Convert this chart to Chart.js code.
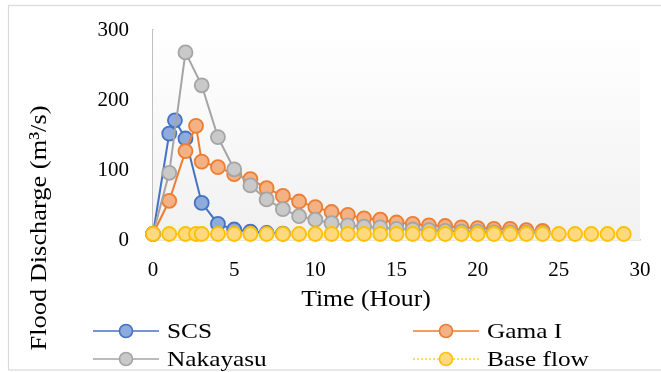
<!DOCTYPE html>
<html>
<head>
<meta charset="utf-8">
<script src="https://cdn.jsdelivr.net/npm/chart.js@4/dist/chart.umd.min.js"></script>
<style>
  html, body { margin: 0; padding: 0; background: #ffffff; }
  #wrap { width: 661px; height: 372px; position: relative; }
</style>
</head>
<body>
<div id="wrap"><canvas id="chart" width="661" height="372"></canvas></div>
<script>
// Hydrograph series (time in hours, discharge in m3/s)
const scsHours = [0, 1, 1.35, 2, 3, 4, 5, 6, 7, 8];
const scsFlow  = [8.6, 152, 171, 145, 53, 23, 15, 12, 10, 9];

const gamaHours = [0, 1, 2, 2.65, 3, 4, 5, 6, 7, 8, 9, 10, 11, 12, 13, 14, 15, 16, 17, 18, 19, 20, 21, 22, 23, 24];
const gamaFlow  = [8.6, 56, 127, 163, 112, 104, 94, 87, 74, 63, 55, 47, 40, 36, 31, 29, 25, 23, 21, 20, 18, 17, 16, 16, 14, 13];

const nakaHours = [0, 1, 2, 3, 4, 5, 6, 7, 8, 9, 10, 11, 12, 13, 14, 15, 16, 17, 18, 19, 20, 21, 22, 23, 24];
const nakaFlow  = [8.6, 96, 268, 221, 147, 101, 78, 58, 44, 34, 29, 24, 21, 19, 18, 16, 15, 14, 13, 12, 12, 11, 11, 10, 10];

const baseHours = [0, 1, 2, 2.65, 3, 4, 5, 6, 7, 8, 9, 10, 11, 12, 13, 14, 15, 16, 17, 18, 19, 20, 21, 22, 23, 24, 25, 26, 27, 28, 29];
const baseFlow  = [8.6, 8.6, 8.6, 8.6, 8.6, 8.6, 8.6, 8.6, 8.6, 8.6, 8.6, 8.6, 8.6, 8.6, 8.6, 8.6, 8.6, 8.6, 8.6, 8.6, 8.6, 8.6, 8.6, 8.6, 8.6, 8.6, 8.6, 8.6, 8.6, 8.6, 8.6];

const seriesNames = ['SCS', 'Gama I', 'Nakayasu', 'Base flow'];
const xTicks = [0, 5, 10, 15, 20, 25, 30];
const yTicks = [0, 100, 200, 300];
const xTitle = 'Time (Hour)';
const yTitle = 'Flood Discharge (m\u00B3/s)';

const FONT = '"Liberation Serif", "DejaVu Serif", serif';

function pairs(xs, ys) {
  return xs.map((x, i) => ({ x: x, y: ys[i] }));
}

function series(label, xs, ys, line, fill, order, dash) {
  return {
    label: label,
    data: pairs(xs, ys),
    borderColor: line,
    backgroundColor: fill,
    borderWidth: dash ? 1.2 : 2,
    borderDash: dash || [],
    pointRadius: 7,
    pointBorderWidth: 1.8,
    pointBorderColor: line,
    pointBackgroundColor: fill,
    pointHoverRadius: 7,
    tension: 0,
    showLine: true,
    clip: false,
    order: order
  };
}

const datasets = [
  series(seriesNames[0], scsHours, scsFlow, '#4472c4', '#8faadc', 3),
  series(seriesNames[1], gamaHours, gamaFlow, '#ed7d31', '#f4b183', 2),
  series(seriesNames[2], nakaHours, nakaFlow, '#a5a5a5', '#c9c9c9', 1),
  series(seriesNames[3], baseHours, baseFlow, '#ffc000', '#ffd97f', 0, [2, 2])
];

// text drawn with a slight horizontal widening (book-style serif proportions)
function wideText(ctx, text, x, y, size, sx, align) {
  ctx.save();
  ctx.font = size + 'px ' + FONT;
  ctx.fillStyle = '#000000';
  ctx.textBaseline = 'middle';
  ctx.textAlign = 'left';
  const w = ctx.measureText(text).width * sx;
  let left = x;
  if (align === 'center') left = x - w / 2;
  ctx.translate(left, y);
  ctx.scale(sx, 1);
  ctx.fillText(text, 0, 0);
  ctx.restore();
}

// Plot-area shading, outer frame, axis titles and the two-column legend
const decor = {
  id: 'decor',
  beforeDraw(chart) {
    const { ctx } = chart;
    ctx.save();
    ctx.strokeStyle = '#d9d9d9';
    ctx.lineWidth = 1.2;
    ctx.strokeRect(8.5, 5.5, 700, 364.5);
    ctx.restore();
  },
  beforeDatasetsDraw(chart) {
    const { ctx, chartArea: a } = chart;
    ctx.save();
    const g = ctx.createLinearGradient(0, a.top, 0, a.bottom);
    g.addColorStop(0, '#ffffff');
    g.addColorStop(1, '#f1f1f1');
    ctx.fillStyle = g;
    ctx.fillRect(a.left, a.top, a.right - a.left, a.bottom - a.top);
    ctx.restore();
  },
  afterDraw(chart) {
    const { ctx } = chart;
    wideText(ctx, xTitle, 366, 300, 24, 1.07, 'center');

    ctx.save();
    ctx.translate(40, 228);
    ctx.rotate(-Math.PI / 2);
    wideText(ctx, yTitle, 0, 0, 24, 1.1, 'center');
    ctx.restore();

    // legend
    const spots = [
      { x: 93, y: 331 }, { x: 413, y: 331 },
      { x: 93, y: 359 }, { x: 413, y: 359 }
    ];
    chart.data.datasets.forEach((ds, i) => {
      const p = spots[i];
      ctx.save();
      ctx.strokeStyle = ds.borderColor;
      ctx.lineWidth = ds.borderDash.length ? 1.2 : 1.6;
      ctx.setLineDash(ds.borderDash);
      ctx.beginPath();
      ctx.moveTo(p.x, p.y);
      ctx.lineTo(p.x + 66, p.y);
      ctx.stroke();
      ctx.setLineDash([]);
      ctx.beginPath();
      ctx.arc(p.x + 33, p.y, 6.5, 0, Math.PI * 2);
      ctx.fillStyle = ds.pointBackgroundColor;
      ctx.fill();
      ctx.lineWidth = 1.6;
      ctx.strokeStyle = ds.pointBorderColor;
      ctx.stroke();
      ctx.restore();
      wideText(ctx, ds.label, p.x + 74, p.y + 1, 22, 1.15, 'left');
    });
  }
};

new Chart(document.getElementById('chart'), {
  type: 'scatter',
  data: { datasets: datasets },
  options: {
    responsive: false,
    animation: false,
    layout: { padding: { top: 30, right: 21, left: 0, bottom: 0 } },
    plugins: {
      legend: { display: false },
      tooltip: { enabled: false }
    },
    scales: {
      x: {
        type: 'linear',
        min: 0,
        max: 30,
        afterBuildTicks(scale) { scale.ticks = xTicks.map(v => ({ value: v })); },
        afterFit(scale) {
          scale.height = 132;
          scale.paddingLeft = 0;
          scale.paddingRight = 0;
        },
        grid: { display: false, drawTicks: false },
        border: { display: true, color: '#d0d0d0', width: 1.5 },
        ticks: { color: '#000000', font: { family: FONT, size: 21 }, padding: 18, maxRotation: 0 }
      },
      y: {
        type: 'linear',
        min: 0,
        max: 300,
        afterBuildTicks(scale) { scale.ticks = yTicks.map(v => ({ value: v })); },
        afterFit(scale) {
          scale.width = 153;
          scale.paddingTop = 0;
          scale.paddingBottom = 0;
        },
        grid: { display: false, drawTicks: false },
        border: { display: true, color: '#bfbfbf', width: 1.5 },
        ticks: { color: '#000000', font: { family: FONT, size: 21 }, padding: 24 }
      }
    }
  },
  plugins: [decor]
});
</script>
</body>
</html>
